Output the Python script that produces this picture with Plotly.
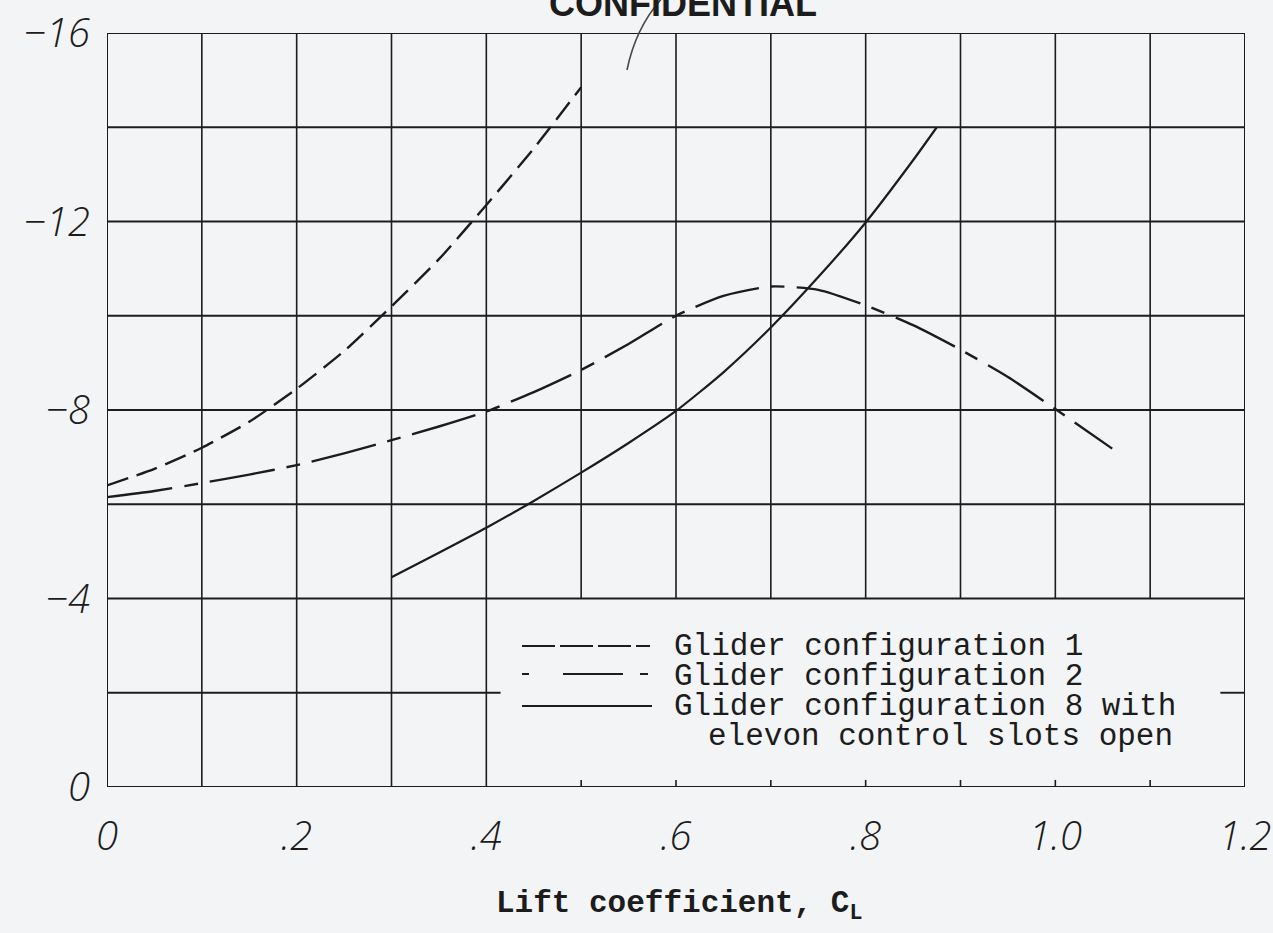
import plotly.graph_objects as go

# ---------------- data ----------------
cl_config1 = [0.0, 0.05, 0.10, 0.15, 0.20, 0.25, 0.30, 0.35, 0.40, 0.45, 0.50]
cm_config1 = [-6.40, -6.75, -7.20, -7.75, -8.45, -9.25, -10.20, -11.20, -12.35, -13.55, -14.85]

cl_config2 = [0.0, 0.05, 0.10, 0.15, 0.20, 0.25, 0.30, 0.35, 0.40, 0.45, 0.50, 0.55,
              0.60, 0.65, 0.70, 0.75, 0.80, 0.85, 0.90, 0.95, 1.00, 1.06]
cm_config2 = [-6.15, -6.28, -6.45, -6.63, -6.83, -7.08, -7.36, -7.65, -7.97, -8.38, -8.85, -9.40,
              -10.00, -10.42, -10.62, -10.55, -10.22, -9.80, -9.28, -8.70, -8.02, -7.18]

cl_config8 = [0.30, 0.35, 0.40, 0.45, 0.50, 0.55, 0.60, 0.65, 0.70, 0.75, 0.80, 0.85, 0.875]
cm_config8 = [-4.45, -4.97, -5.50, -6.07, -6.67, -7.30, -7.98, -8.80, -9.75, -10.82, -11.98, -13.30, -14.00]

legend_labels = ["Glider configuration 1",
                 "Glider configuration 2",
                 "Glider configuration 8 with",
                 "elevon control slots open"]

x_tickvals = [0, 0.2, 0.4, 0.6, 0.8, 1.0, 1.2]
x_ticktext = ["0", ".2", ".4", ".6", ".8", "1.0", "1.2"]
y_tickvals = [0, -4, -8, -12, -16]
y_ticktext = ["0", "\u22124", "\u22128", "\u221212", "\u221216"]

x_title = "Lift coefficient, C<sub>L</sub>"
top_stamp = "CONFIDENTIAL"

# ---------------- layout geometry (page pixels) ----------------
W, H = 1273, 933
L, R, T, B = 107, 1245, 33, 787
INK = "#1c1c1c"
BG = "#f3f4f6"


def px_x(p):
    return (p - L) / (R - L)


def px_y(p):
    return (B - p) / (B - T)


fig = go.Figure()

fig.add_trace(go.Scatter(x=cl_config1, y=cm_config1, mode="lines", name=legend_labels[0],
                         line=dict(color=INK, width=2.4, dash="22px,9px", shape="spline", smoothing=0.6)))
fig.add_trace(go.Scatter(x=cl_config2, y=cm_config2, mode="lines", name=legend_labels[1],
                         line=dict(color=INK, width=2.4, dash="66px,12px,14px,12px", shape="spline", smoothing=0.6)))
fig.add_trace(go.Scatter(x=cl_config8, y=cm_config8, mode="lines", name=legend_labels[2],
                         line=dict(color=INK, width=2.2, shape="spline", smoothing=0.6)))

shapes = []
grid_line = dict(color=INK, width=1.6)
for i in range(1, 12):
    xv = i / 10
    if xv < 0.45:
        shapes.append(dict(type="line", xref="x", yref="y", x0=xv, x1=xv, y0=0, y1=-16,
                           line=grid_line, layer="below"))
    else:
        shapes.append(dict(type="line", xref="x", yref="y", x0=xv, x1=xv, y0=-4, y1=-16,
                           line=grid_line, layer="below"))
        shapes.append(dict(type="line", xref="x", yref="y", x0=xv, x1=xv, y0=0, y1=-0.15,
                           line=grid_line, layer="below"))
for yv in range(-4, -16, -2):
    shapes.append(dict(type="line", xref="x", yref="y", x0=0, x1=1.2, y0=yv, y1=yv,
                       line=dict(color=INK, width=1.9), layer="below"))
shapes.append(dict(type="line", xref="x", yref="y", x0=0, x1=0.415, y0=-2, y1=-2,
                   line=dict(color=INK, width=1.9), layer="below"))
shapes.append(dict(type="line", xref="x", yref="y", x0=1.174, x1=1.2, y0=-2, y1=-2,
                   line=dict(color=INK, width=1.9), layer="below"))
shapes.append(dict(type="rect", xref="x", yref="y", x0=0, x1=1.2, y0=0, y1=-16,
                   line=dict(color=INK, width=2.0), layer="below"))

# legend samples
shapes.append(dict(type="line", xref="paper", yref="paper", x0=px_x(522), x1=px_x(650),
                   y0=px_y(646), y1=px_y(646), line=dict(color=INK, width=2.2, dash="33px,5px")))
shapes.append(dict(type="line", xref="paper", yref="paper", x0=px_x(522), x1=px_x(648),
                   y0=px_y(674), y1=px_y(674), line=dict(color=INK, width=2.2, dash="7px,34px,60px,17px,8px")))
shapes.append(dict(type="line", xref="paper", yref="paper", x0=px_x(522), x1=px_x(652),
                   y0=px_y(706), y1=px_y(706), line=dict(color=INK, width=2.2)))

# pencil mark near the top
shapes.append(dict(type="path", xref="paper", yref="paper",
                   path=f"M {px_x(664)},{px_y(-4)} Q {px_x(636)},{px_y(26)} {px_x(627)},{px_y(70)}",
                   line=dict(color="#4a4a4a", width=1.6)))

annotations = []
legend_font = dict(family="Liberation Mono", size=31, color=INK)
for txt, xp, yp in [(legend_labels[0], 672, 646), (legend_labels[1], 672, 676),
                    (legend_labels[2], 672, 706), (legend_labels[3], 706, 736)]:
    annotations.append(dict(text=txt, xref="paper", yref="paper", x=px_x(xp), y=px_y(yp),
                            xanchor="left", yanchor="middle", showarrow=False, font=legend_font))

annotations.append(dict(text=x_title, xref="paper", yref="paper", x=px_x(679), y=px_y(906),
                        xanchor="center", yanchor="middle", showarrow=False,
                        font=dict(family="Liberation Mono", size=31, color=INK, weight="bold")))
annotations.append(dict(text=top_stamp, xref="paper", yref="paper", x=px_x(683), y=px_y(3),
                        xanchor="center", yanchor="middle", showarrow=False,
                        font=dict(family="Liberation Sans", size=36, color=INK, weight="bold")))

tick_font = dict(family="Open Sans", size=40, color=INK, style="italic", weight=300)

fig.update_layout(
    width=W, height=H,
    margin=dict(l=L, r=W - R, t=T, b=H - B, autoexpand=False),
    paper_bgcolor=BG, plot_bgcolor=BG,
    showlegend=False,
    shapes=shapes,
    annotations=annotations,
    xaxis=dict(range=[0, 1.2], tickvals=x_tickvals, ticktext=x_ticktext, showgrid=False,
               zeroline=False, showline=False, ticks="", tickfont=tick_font,
               ticklabelstandoff=22, ticklabeloverflow="allow"),
    yaxis=dict(range=[0, -16], tickvals=y_tickvals, ticktext=y_ticktext, showgrid=False,
               zeroline=False, showline=False, ticks="", tickfont=tick_font,
               ticklabelstandoff=16, ticklabeloverflow="allow"),
)

fig.write_html(
    "out.html",
    config={"displayModeBar": False},
    post_script=(
        "document.body.style.margin='0';"
        "document.body.style.overflow='hidden';"
        "document.body.style.background='" + BG + "';"
    ),
)
